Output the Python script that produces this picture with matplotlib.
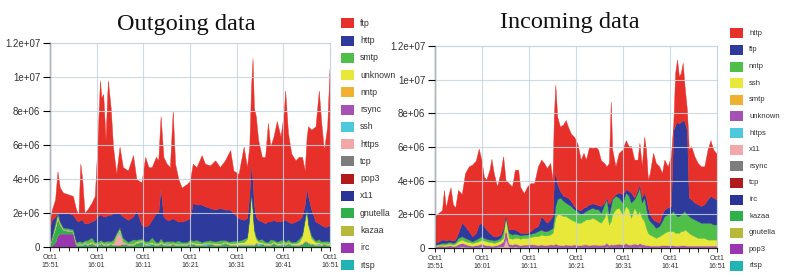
import numpy as np
import matplotlib
matplotlib.use("Agg")
import matplotlib.pyplot as plt
from matplotlib.patches import Rectangle

# ---- datos (valores en millones, tiempo en minutos desde Oct1 15:51) ----
colores = ["#e8302a", "#2e3a9c", "#4fbf4a", "#e8e83a", "#f0b030", "#a652b5", "#4ec8dc",
           "#f2a8a8", "#7d7d7d", "#b01c1c", "#2a3496", "#2fb04a", "#b8b83a", "#9a36b0", "#22b4b4"]

tick_labels = ["Oct1\n15:51", "Oct1\n16:01", "Oct1\n16:11", "Oct1\n16:21",
               "Oct1\n16:31", "Oct1\n16:41", "Oct1\n16:51"]
y_labels = ["0", "2e+06", "4e+06", "6e+06", "8e+06", "1e+07", "1.2e+07"]

# Outgoing
out_names = ["ftp", "http", "smtp", "unknown", "nntp", "rsync", "ssh", "https",
             "tcp", "pop3", "x11", "gnutella", "kazaa", "irc", "rtsp"]
out_t = [0, 0.4, 1.1, 1.6, 2.1, 2.8, 3.9, 4.9, 5.6, 6.1, 6.5, 6.9, 7.4, 8.0, 8.9,
         9.6, 10.1, 10.7, 11.0, 11.4, 11.9, 12.4, 13.0, 13.5, 14.2, 14.9, 15.6, 16.7,
         17.8, 18.5, 19.6, 20.4, 21.1, 21.8, 22.7, 23.2, 23.7, 24.3, 25.0, 25.7, 26.3,
         26.8, 27.5, 28.2, 29.3, 30.0, 30.6, 31.4, 32.5, 33.2, 34.3, 35.4, 36.4, 37.5,
         38.6, 39.3, 40.4, 41.5, 42.2, 42.7, 43.1, 43.4, 43.7, 44.1, 44.6, 45.4, 46.1,
         46.7, 47.2, 47.9, 48.6, 49.4, 50.1, 50.4, 51.0, 51.7, 52.6, 53.3, 54.0, 54.6,
         55.0, 55.3, 56.0, 56.9, 57.6, 58.1, 58.7, 59.4, 59.9, 60.0]
out_total = [1.5, 2.2, 2.8, 4.4, 3.5, 3.2, 3.1, 3.0, 2.2, 1.9,
             4.9, 4.0, 2.0, 2.2, 2.6, 3.0, 5.7, 9.8, 8.8, 9.0,
             6.3, 9.8, 8.2, 5.9, 4.3, 5.9, 4.7, 4.5, 5.4, 4.0,
             3.8, 5.3, 4.7, 4.7, 5.3, 5.1, 7.7, 5.3, 4.9, 4.7,
             8.0, 4.9, 4.0, 3.5, 3.7, 3.9, 4.9, 4.7, 5.4, 4.9,
             4.8, 5.1, 4.7, 5.1, 5.7, 4.5, 4.3, 5.9, 4.7, 5.9,
             9.5, 11.1, 8.2, 7.7, 6.3, 5.3, 5.3, 7.3, 5.9, 6.5,
             7.4, 6.5, 7.9, 9.2, 6.7, 5.5, 5.1, 5.3, 5.3, 4.5,
             6.5, 7.1, 6.9, 7.1, 9.2, 7.4, 5.7, 7.1, 10.5, 10.4]
out_http_top = [1.2, 1.6, 1.8, 2.0, 2.0, 2.0, 2.0, 1.9, 1.6, 1.5,
                1.6, 1.6, 1.4, 1.4, 1.5, 1.6, 1.8, 1.9, 1.9, 1.8,
                1.8, 1.9, 1.9, 2.0, 2.0, 2.0, 1.8, 1.6, 1.8, 2.2,
                1.3, 1.2, 1.3, 1.6, 2.0, 2.0, 3.5, 1.8, 1.6, 1.6,
                1.7, 1.6, 1.5, 1.5, 1.6, 1.7, 2.6, 2.5, 2.5, 2.4,
                2.3, 2.2, 2.3, 2.2, 2.2, 2.0, 1.7, 1.6, 1.7, 3.0,
                5.0, 4.0, 2.5, 1.8, 1.6, 1.5, 1.4, 1.5, 1.5, 1.6,
                1.5, 1.5, 1.6, 1.6, 1.5, 1.4, 1.5, 1.6, 1.8, 2.5,
                3.5, 3.0, 2.2, 1.5, 1.4, 1.3, 1.2, 1.2, 1.3, 1.3]
out_smtp = [0.1, 0.1, 0.2, 0.2, 0.1, 0.1, 0.1, 0.1, 0.1, 0.1,
            0.15, 0.1, 0.1, 0.2, 0.25, 0.1, 0.1, 0.15, 0.1, 0.1,
            0.1, 0.15, 0.1, 0.2, 0.1, 0.1, 0.2, 0.1, 0.25, 0.1,
            0.1, 0.15, 0.1, 0.3, 0.1, 0.1, 0.2, 0.1, 0.1, 0.15,
            0.1, 0.1, 0.2, 0.1, 0.1, 0.15, 0.1, 0.2, 0.1, 0.1,
            0.15, 0.1, 0.2, 0.1, 0.1, 0.15, 0.1, 0.2, 0.1, 0.1,
            0.1, 0.1, 0.1, 0.15, 0.1, 0.2, 0.1, 0.1, 0.25, 0.1,
            0.1, 0.2, 0.1, 0.1, 0.15, 0.1, 0.1, 0.2, 0.1, 0.1,
            0.1, 0.1, 0.15, 0.1, 0.2, 0.1, 0.1, 0.15, 0.1, 0.1]
out_unknown = [0, 0, 0.1, 0.1, 0.05, 0, 0, 0, 0, 0.02,
               0.02, 0.02, 0.02, 0.03, 0.05, 0.03, 0.02, 0.02, 0.03, 0.03,
               0.02, 0.03, 0.03, 0.05, 0.05, 0.03, 0.03, 0.02, 0.03, 0.05,
               0.03, 0.02, 0.03, 0.05, 0.03, 0.03, 0.05, 0.03, 0.03, 0.02,
               0.03, 0.03, 0.02, 0.02, 0.03, 0.03, 0.05, 0.05, 0.03, 0.03,
               0.03, 0.05, 0.03, 0.03, 0.05, 0.05, 0.1, 0.1, 0.3, 1.5,
               3.0, 2.0, 0.8, 0.2, 0.1, 0.05, 0.05, 0.03, 0.03, 0.05,
               0.05, 0.03, 0.05, 0.05, 0.03, 0.03, 0.05, 0.1, 0.4, 1.2,
               1.8, 1.0, 0.3, 0.1, 0.05, 0.05, 0.03, 0.03, 0.05, 0.05]
out_ssh = [0.05, 0.05, 0.05, 0.05, 0.05, 0.05, 0.05, 0.05, 0.05, 0.1,
           0.05, 0.05, 0.1, 0.05, 0.05, 0.05, 0.05, 0.05, 0.05, 0.05,
           0.1, 0.05, 0.05, 0.05, 0.05, 0.2, 0.05, 0.05, 0.05, 0.05,
           0.05, 0.05, 0.1, 0.05, 0.05, 0.05, 0.05, 0.05, 0.1, 0.05,
           0.05, 0.05, 0.05, 0.05, 0.05, 0.05, 0.05, 0.05, 0.05, 0.1,
           0.05, 0.05, 0.05, 0.05, 0.05, 0.05, 0.05, 0.05, 0.05, 0.05,
           0.05, 0.05, 0.05, 0.05, 0.1, 0.05, 0.05, 0.05, 0.05, 0.05,
           0.05, 0.05, 0.1, 0.05, 0.05, 0.05, 0.05, 0.05, 0.05, 0.05,
           0.05, 0.05, 0.05, 0.05, 0.1, 0.05, 0.05, 0.05, 0.05, 0.05]
out_https = [0, 0, 0, 0, 0, 0, 0, 0, 0, 0,
             0, 0, 0, 0, 0, 0, 0, 0, 0, 0,
             0, 0, 0, 0, 0.5, 0.7, 0.1, 0, 0, 0,
             0, 0, 0, 0, 0, 0, 0, 0, 0, 0,
             0, 0, 0, 0, 0, 0, 0, 0, 0, 0,
             0, 0, 0, 0, 0, 0, 0, 0, 0, 0,
             0, 0, 0, 0, 0, 0, 0, 0, 0, 0,
             0, 0, 0, 0, 0, 0, 0, 0, 0, 0,
             0, 0, 0, 0, 0, 0, 0, 0, 0, 0]
out_gnutella = [0.1, 0.4, 0.8, 1.0, 0.5, 0.2, 0.15, 0.1, 0.1, 0.1,
                0.1, 0.1, 0.15, 0.1, 0.2, 0.1, 0.1, 0.15, 0.2, 0.1,
                0.1, 0.1, 0.15, 0.1, 0.1, 0.1, 0.15, 0.1, 0.1, 0.2,
                0.3, 0.1, 0.1, 0.15, 0.1, 0.1, 0.2, 0.1, 0.1, 0.1,
                0.15, 0.1, 0.1, 0.1, 0.1, 0.2, 0.15, 0.1, 0.1, 0.1,
                0.15, 0.1, 0.1, 0.2, 0.1, 0.1, 0.1, 0.1, 0.1, 0.1,
                0.1, 0.1, 0.1, 0.2, 0.1, 0.15, 0.1, 0.1, 0.1, 0.2,
                0.1, 0.1, 0.15, 0.1, 0.2, 0.1, 0.1, 0.1, 0.15, 0.3,
                0.3, 0.2, 0.15, 0.1, 0.1, 0.1, 0.15, 0.1, 0.1, 0.1]
out_irc = [0.05, 0.1, 0.3, 0.7, 0.8, 0.8, 0.8, 0.8, 0.05, 0.02,
           0.02, 0.03, 0.02, 0.03, 0.02, 0.03, 0.02, 0.03, 0.02, 0.03,
           0.02, 0.03, 0.02, 0.03, 0.02, 0.03, 0.02, 0.03, 0.02, 0.03,
           0.02, 0.03, 0.02, 0.03, 0.02, 0.03, 0.02, 0.03, 0.02, 0.03,
           0.02, 0.03, 0.02, 0.03, 0.02, 0.03, 0.02, 0.03, 0.02, 0.03,
           0.02, 0.03, 0.02, 0.03, 0.02, 0.03, 0.02, 0.03, 0.02, 0.03,
           0.02, 0.03, 0.02, 0.03, 0.02, 0.03, 0.02, 0.03, 0.02, 0.03,
           0.02, 0.03, 0.02, 0.03, 0.02, 0.03, 0.02, 0.03, 0.02, 0.03,
           0.02, 0.03, 0.02, 0.03, 0.02, 0.03, 0.02, 0.03, 0.02, 0.03]

# Incoming
in_names = ["http", "ftp", "nntp", "ssh", "smtp", "unknown", "https", "x11",
            "rsync", "tcp", "irc", "kazaa", "gnutella", "pop3", "rtsp"]
in_t = [0, 0.8, 1.5, 1.9, 2.3, 2.9, 3.3, 3.8,
        4.3, 4.9, 5.7, 6.4, 7.2, 7.9, 8.7, 9.3,
        9.9, 10.4, 10.9, 11.6, 12.0, 12.5, 13.2, 13.9,
        14.5, 15.0, 15.7, 16.4, 17.0, 17.7, 18.1, 18.9,
        19.6, 20.3, 21.1, 21.9, 22.6, 23.2, 23.8, 24.5,
        25.0, 25.3, 25.6, 26.0, 26.6, 27.3, 27.8, 28.3,
        28.9, 29.6, 30.3, 31.0, 31.6, 32.1, 32.8, 33.5,
        34.2, 34.7, 35.3, 36.0, 36.5, 37.0, 37.4, 37.7,
        38.4, 39.1, 39.9, 40.6, 41.2, 41.7, 42.4, 43.1,
        43.5, 44.0, 44.5, 44.9, 45.3, 45.7, 46.4, 47.0,
        47.7, 48.3, 48.8, 49.5, 50.2, 50.7, 51.1, 51.5,
        51.9, 52.3, 52.7, 53.1, 53.6, 54.0, 54.5, 55.2,
        55.9, 56.6, 57.3, 58.0, 58.6, 59.2, 59.8, 60.0]
in_total = [1.9, 2.1, 2.25, 3.45, 2.4, 3.2, 3.6, 2.6,
            2.4, 3.45, 3.2, 4.45, 4.85, 4.95, 5.2, 5.9,
            5.2, 4.25, 4.05, 4.65, 5.3, 4.45, 3.65, 4.45,
            5.45, 4.05, 3.85, 3.65, 4.65, 4.65, 3.65, 3.25,
            3.65, 3.85, 3.85, 4.85, 5.25, 5.05, 4.75, 5.05,
            4.05, 7.9, 9.7, 7.8, 7.2, 7.35, 7.6, 7.2,
            6.8, 6.6, 6.2, 5.25, 5.65, 5.25, 6.0, 5.95,
            6.0, 5.85, 5.2, 5.05, 4.85, 5.05, 8.7, 5.85,
            4.85, 5.65, 5.85, 6.4, 6.05, 6.05, 5.25, 5.25,
            6.25, 4.85, 6.6, 5.85, 4.05, 4.45, 5.65, 5.05,
            4.85, 4.45, 5.25, 4.85, 5.45, 7.4, 10.4, 11.2,
            10.2, 10.4, 11.0, 9.6, 8.2, 5.85, 6.05, 5.45,
            5.05, 4.85, 4.85, 5.85, 6.4, 5.85, 5.65, 5.6]
in_ftp_top = [0.3, 0.4, 0.5, 0.5, 0.45, 0.5, 0.5, 0.45,
              0.5, 0.9, 1.5, 1.3, 1.0, 0.7, 0.9, 1.4,
              1.5, 1.3, 1.1, 0.9, 0.8, 0.7, 0.7, 0.8,
              1.2, 2.0, 1.1, 1.1, 1.1, 1.0, 0.9, 0.9,
              0.9, 1.0, 1.2, 1.3, 1.9, 1.7, 1.5, 1.7,
              1.9, 4.0, 4.6, 3.8, 3.4, 3.1, 3.05, 3.0,
              2.8, 2.5, 2.3, 2.25, 2.4, 2.45, 2.6, 2.65,
              2.6, 2.55, 2.5, 2.7, 3.0, 2.6, 2.8, 3.0,
              3.2, 3.3, 3.2, 3.5, 3.4, 3.3, 3.0, 3.5,
              3.8, 3.0, 3.3, 3.0, 2.4, 2.0, 1.7, 1.6,
              1.5, 2.0, 2.3, 2.4, 2.5, 7.0, 7.3, 7.5,
              7.4, 7.5, 7.6, 7.5, 7.0, 3.0, 2.9, 2.7,
              2.6, 2.5, 2.6, 2.9, 3.1, 3.0, 2.9, 2.9]
in_nntp_top = [0.2, 0.25, 0.3, 0.3, 0.3, 0.35, 0.35, 0.3,
               0.35, 0.6, 0.7, 0.6, 0.5, 0.4, 0.5, 0.6,
               0.7, 0.6, 0.55, 0.5, 0.5, 0.45, 0.5, 0.6,
               1.0, 1.9, 0.9, 0.8, 0.85, 0.8, 0.75, 0.8,
               0.8, 0.85, 0.9, 1.0, 1.1, 1.0, 1.0, 1.1,
               1.2, 1.8, 2.5, 2.9, 3.0, 2.8, 2.7, 2.6,
               2.5, 2.3, 2.2, 2.0, 2.1, 2.2, 2.3, 2.4,
               2.3, 2.3, 2.1, 2.6, 2.9, 2.0, 2.5, 2.9,
               3.1, 3.0, 2.7, 3.3, 3.1, 2.7, 2.9, 3.3,
               3.6, 2.7, 3.0, 2.4, 1.8, 1.6, 1.4, 1.2,
               1.3, 1.6, 1.9, 2.0, 2.1, 2.2, 2.0, 1.9,
               1.9, 2.0, 2.1, 2.2, 2.0, 1.9, 1.8, 1.7,
               1.6, 1.5, 1.5, 1.5, 1.5, 1.4, 1.4, 1.4]
in_ssh_top = [0.15, 0.2, 0.2, 0.2, 0.2, 0.25, 0.25, 0.2,
              0.25, 0.4, 0.5, 0.4, 0.35, 0.3, 0.35, 0.4,
              0.5, 0.45, 0.4, 0.35, 0.35, 0.3, 0.35, 0.45,
              0.6, 1.8, 0.6, 0.55, 0.6, 0.6, 0.55, 0.6,
              0.6, 0.65, 0.7, 0.7, 0.8, 0.75, 0.75, 0.8,
              0.9, 1.3, 1.8, 2.0, 2.0, 1.9, 1.9, 1.8,
              1.7, 1.6, 1.5, 1.5, 1.6, 1.7, 1.7, 1.8,
              1.7, 1.6, 1.5, 1.8, 2.2, 1.4, 1.6, 2.0,
              2.3, 2.4, 2.0, 2.5, 2.3, 1.8, 2.4, 2.0,
              2.2, 1.8, 1.6, 1.2, 0.9, 0.8, 0.7, 0.6,
              0.7, 0.8, 0.9, 1.0, 1.0, 1.0, 0.9, 0.9,
              0.9, 1.0, 1.0, 1.1, 1.0, 0.9, 0.8, 0.7,
              0.6, 0.6, 0.6, 0.5, 0.5, 0.5, 0.5, 0.5]
in_smtp = [0.03, 0.03, 0.03, 0.03, 0.03, 0.05, 0.03, 0.03,
           0.03, 0.03, 0.03, 0.05, 0.03, 0.03, 0.03, 0.03,
           0.05, 0.03, 0.03, 0.03, 0.03, 0.03, 0.03, 0.05,
           0.03, 0.03, 0.03, 0.03, 0.05, 0.03, 0.03, 0.03,
           0.03, 0.05, 0.03, 0.03, 0.03, 0.03, 0.05, 0.03,
           0.03, 0.03, 0.05, 0.03, 0.03, 0.03, 0.03, 0.05,
           0.03, 0.03, 0.03, 0.03, 0.05, 0.03, 0.03, 0.03,
           0.03, 0.05, 0.03, 0.03, 0.05, 0.03, 0.03, 0.03,
           0.05, 0.03, 0.03, 0.05, 0.03, 0.03, 0.05, 0.03,
           0.03, 0.03, 0.03, 0.03, 0.03, 0.03, 0.03, 0.03,
           0.03, 0.03, 0.03, 0.03, 0.03, 0.03, 0.03, 0.03,
           0.03, 0.03, 0.03, 0.03, 0.03, 0.03, 0.03, 0.03,
           0.03, 0.03, 0.03, 0.03, 0.03, 0.03, 0.03, 0.03]
in_unknown = [0.06, 0.08, 0.08, 0.06, 0.08, 0.1, 0.1, 0.08,
              0.08, 0.15, 0.2, 0.15, 0.1, 0.08, 0.1, 0.12,
              0.15, 0.12, 0.1, 0.1, 0.08, 0.08, 0.1, 0.15,
              0.3, 0.6, 0.15, 0.12, 0.15, 0.12, 0.1, 0.12,
              0.12, 0.15, 0.15, 0.12, 0.15, 0.12, 0.12, 0.15,
              0.15, 0.15, 0.2, 0.15, 0.12, 0.12, 0.15, 0.12,
              0.12, 0.15, 0.12, 0.12, 0.15, 0.15, 0.12, 0.15,
              0.15, 0.12, 0.12, 0.15, 0.2, 0.12, 0.15, 0.15,
              0.15, 0.2, 0.15, 0.2, 0.15, 0.15, 0.2, 0.15,
              0.2, 0.15, 0.15, 0.12, 0.12, 0.1, 0.1, 0.1,
              0.1, 0.12, 0.12, 0.12, 0.12, 0.12, 0.1, 0.1,
              0.1, 0.12, 0.12, 0.12, 0.1, 0.1, 0.1, 0.1,
              0.1, 0.1, 0.1, 0.1, 0.1, 0.1, 0.1, 0.1]
in_x11 = [0.04, 0.05, 0.06, 0.05, 0.04, 0.05, 0.06, 0.04,
          0.05, 0.08, 0.1, 0.08, 0.06, 0.05, 0.06, 0.08,
          0.1, 0.08, 0.06, 0.05, 0.05, 0.06, 0.08, 0.1,
          0.1, 0.6, 0.1, 0.08, 0.1, 0.08, 0.06, 0.08,
          0.08, 0.06, 0.06, 0.05, 0.06, 0.05, 0.05, 0.06,
          0.05, 0.05, 0.06, 0.05, 0.05, 0.05, 0.06, 0.05,
          0.05, 0.06, 0.05, 0.05, 0.05, 0.06, 0.05, 0.05,
          0.05, 0.05, 0.06, 0.05, 0.1, 0.05, 0.08, 0.05,
          0.06, 0.05, 0.05, 0.08, 0.05, 0.05, 0.06, 0.05,
          0.1, 0.06, 0.05, 0.05, 0.05, 0.04, 0.04, 0.04,
          0.04, 0.05, 0.05, 0.04, 0.04, 0.04, 0.04, 0.04,
          0.04, 0.04, 0.04, 0.04, 0.04, 0.04, 0.04, 0.04,
          0.04, 0.04, 0.04, 0.04, 0.04, 0.04, 0.04, 0.04]


def pos(x):
    return np.clip(np.asarray(x, dtype=float), 0, None)


# capas en el orden de la leyenda (arriba -> abajo)
o = {k: np.asarray(v, dtype=float) for k, v in
     dict(smtp=out_smtp, unknown=out_unknown, ssh=out_ssh, https=out_https,
          gnutella=out_gnutella, irc=out_irc).items()}
out_base = o["smtp"] + o["unknown"] + o["ssh"] + o["https"] + o["gnutella"] + o["irc"]
z_out = np.zeros(len(out_t))
out_layers = [pos(np.array(out_total) - np.array(out_http_top)),
              pos(np.array(out_http_top) - out_base),
              o["smtp"], o["unknown"], z_out, z_out, o["ssh"], o["https"],
              z_out, z_out, z_out, o["gnutella"], z_out, o["irc"], z_out]

in_base = np.array(in_smtp) + np.array(in_unknown) + np.array(in_x11)
z_in = np.zeros(len(in_t))
in_layers = [pos(np.array(in_total) - np.array(in_ftp_top)),
             pos(np.array(in_ftp_top) - np.array(in_nntp_top)),
             pos(np.array(in_nntp_top) - np.array(in_ssh_top)),
             pos(np.array(in_ssh_top) - in_base),
             np.array(in_smtp), np.array(in_unknown), z_in, np.array(in_x11),
             z_in, z_in, z_in, z_in, z_in, z_in, z_in]

W, H = 785, 278
fig = plt.figure(figsize=(W / 100, H / 100), dpi=100)
grid_col = "#c6d4e0"
txt_col = "#333333"


def fx(x):
    return x / W


def fy(y):
    return 1 - y / H


def panel(rect, t, layers, title, title_xy):
    ax = fig.add_axes(rect)
    ax.stackplot(t, *[l * 1e6 for l in layers[::-1]], colors=colores[::-1],
                 edgecolor="face", linewidth=0.3)
    ax.set_xlim(0, 60)
    ax.set_ylim(0, 12e6)
    ax.set_xticks(np.arange(0, 61, 10))
    ax.set_xticklabels(tick_labels, fontsize=5, color=txt_col, linespacing=1.3,
                       family="Liberation Sans")
    ax.set_xticks(np.arange(0, 61, 2), minor=True)
    ax.set_yticks(np.arange(0, 12.1e6, 2e6))
    ax.set_yticklabels(y_labels, fontsize=7, color=txt_col, family="Liberation Sans")
    ax.tick_params(axis="y", length=5, width=0.8, pad=2)
    ax.tick_params(axis="x", which="both", length=3, width=0.6, pad=2)
    ax.grid(True, which="major", color=grid_col, linewidth=0.8, alpha=0.85)
    ax.set_axisbelow(False)
    for s in ["top", "right"]:
        ax.spines[s].set_color(grid_col)
    for s in ["left", "bottom"]:
        ax.spines[s].set_color("#222222")
        ax.spines[s].set_linewidth(0.9)
    fig.text(fx(title_xy[0]), fy(title_xy[1]), title, family="Liberation Serif",
             fontsize=17.5, ha="center", va="center", color="#111111")
    return ax


panel([fx(50), fy(247), fx(280), 204 / H], out_t, out_layers, "Outgoing data", (186, 24.5))
panel([fx(435), fy(248), fx(282), 202 / H], in_t, in_layers, "Incoming data", (570, 22.5))


def leyenda(names, x0, y0, step, fsize):
    for i, (n, c) in enumerate(zip(names, colores)):
        yc = y0 + i * step
        fig.add_artist(Rectangle((fx(x0), fy(yc + 5)), fx(13), 10 / H,
                                 transform=fig.transFigure, facecolor=c, edgecolor="none"))
        fig.text(fx(x0 + 19), fy(yc), n, fontsize=fsize, color=txt_col, va="center",
                 family="Liberation Sans")


leyenda(out_names, 341, 23.3, 17.27, 6.3)
leyenda(in_names, 730, 33.3, 16.62, 5.5)

fig.savefig("out.png", dpi=100)
